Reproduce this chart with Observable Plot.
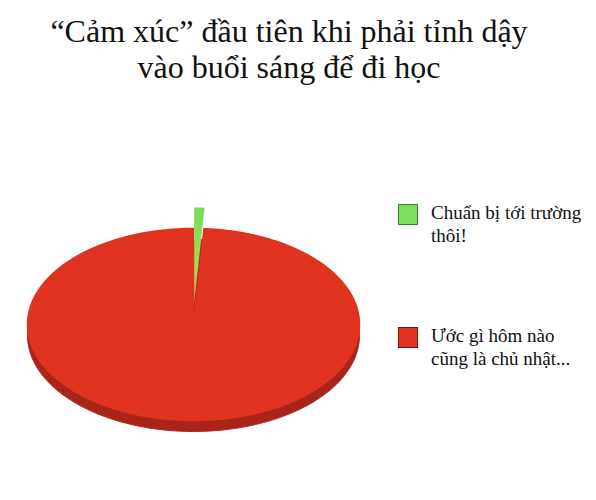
<!DOCTYPE html>
<html>
<head>
<meta charset="utf-8">
<script src="https://cdn.jsdelivr.net/npm/d3@7"></script>
<script src="https://cdn.jsdelivr.net/npm/@observablehq/plot@0.6"></script>
<style>
  html, body { margin: 0; padding: 0; background: #fff; }
  #wrap { position: relative; width: 596px; height: 500px; overflow: hidden; color: #111; }
  #title { position: absolute; left: 0; width: 578px; top: 13px; text-align: center; font-family: 'Liberation Serif'; font-size: 32px; line-height: 36px; }
  #chart { position: absolute; left: 0; top: 0; }
  .leg { position: absolute; left: 398px; font-family: 'Liberation Serif'; font-size: 19px; line-height: 23px; }
  .leg .sw { position: absolute; left: 0; top: 3px; width: 20px; height: 21px; border: 1.5px solid; box-sizing: border-box; }
  .leg .tx { position: absolute; left: 33px; top: 0; white-space: nowrap; }
</style>
</head>
<body>
<div id="wrap">
  <div id="chart"></div>
  <div id="title"></div>
</div>
<script>
// ---- data ----
const titleLines = ["“Cảm xúc” đầu tiên khi phải tỉnh dậy", "vào buổi sáng để đi học"];
const categories = ["Chuẩn bị tới trường thôi!", "Ước gì hôm nào cũng là chủ nhật..."];
const legendLines = [["Chuẩn bị tới trường", "thôi!"], ["Ước gì hôm nào", "cũng là chủ nhật..."]];
const values = [1, 99];

// ---- styles / geometry ----
const colors = ["#7ee05e", "#e0331f"];
const borders = ["#3f7d35", "#6e1c14"];
const sideColor = "#a9241a";
const explode = [21, 0];
const cx = 193, cy = 324, rx = 166, ry = 96, depth = 11;

const pie = d3.pie().sort(null).value(d => d)(values);

function arcPoints(a0, a1, ox, oy, ycen, withCenter) {
  const pts = [];
  if (withCenter) pts.push({x: cx + ox, y: ycen + oy});
  const n = Math.max(2, Math.ceil((a1 - a0) / 0.01));
  for (let i = 0; i <= n; i++) {
    const a = a0 + (a1 - a0) * i / n;
    pts.push({x: cx + ox + rx * Math.sin(a), y: ycen + oy - ry * Math.cos(a)});
  }
  return pts;
}

const marks = [];
// gradient for the exploded (green) slice
marks.push(() => {
  const g = d3.create("svg:g");
  const lg = g.append("defs").append("linearGradient")
    .attr("id", "greenGrad").attr("x1", 0).attr("y1", 0).attr("x2", 0).attr("y2", 1);
  lg.append("stop").attr("offset", "0%").attr("stop-color", "#72de58");
  lg.append("stop").attr("offset", "60%").attr("stop-color", "#a4dc58");
  lg.append("stop").attr("offset", "100%").attr("stop-color", "#e0a040");
  return g.node();
});
// side (depth) of the pie
marks.push(Plot.line(arcPoints(0, 2 * Math.PI, 0, 0, cy + depth, false),
  {x: "x", y: "y", fill: sideColor, stroke: sideColor, strokeWidth: 1, curve: "linear-closed"}));

// slices: non-exploded first, exploded on top
const order = pie.map((p, i) => i).sort((a, b) => explode[a] - explode[b]);
for (const i of order) {
  const p = pie[i];
  const mid = (p.startAngle + p.endAngle) / 2;
  const ox = explode[i] * Math.sin(mid), oy = -explode[i] * Math.cos(mid);
  const fill = explode[i] ? "url(#greenGrad)" : colors[i];
  marks.push(Plot.line(arcPoints(p.startAngle, p.endAngle, ox, oy, cy, true),
    {x: "x", y: "y", fill, stroke: explode[i] ? "none" : colors[i], strokeWidth: 1.5, curve: "linear-closed"}));
}

const chart = Plot.plot({
  width: 596,
  height: 500,
  margin: 0,
  x: {domain: [0, 596], range: [0, 596], axis: null},
  y: {domain: [0, 500], range: [0, 500], axis: null},
  marks
});
document.getElementById("chart").appendChild(chart);

// title from array
document.getElementById("title").innerHTML = titleLines.join("<br>");

// legend
const legTops = [201, 324];
categories.forEach((c, i) => {
  const d = document.createElement("div");
  d.className = "leg";
  d.style.top = legTops[i] + "px";
  d.title = c;
  const sw = document.createElement("div");
  sw.className = "sw";
  sw.style.background = colors[i];
  sw.style.borderColor = borders[i];
  const tx = document.createElement("div");
  tx.className = "tx";
  tx.innerHTML = legendLines[i].join("<br>");
  d.appendChild(sw); d.appendChild(tx);
  document.getElementById("wrap").appendChild(d);
});
</script>
</body>
</html>
